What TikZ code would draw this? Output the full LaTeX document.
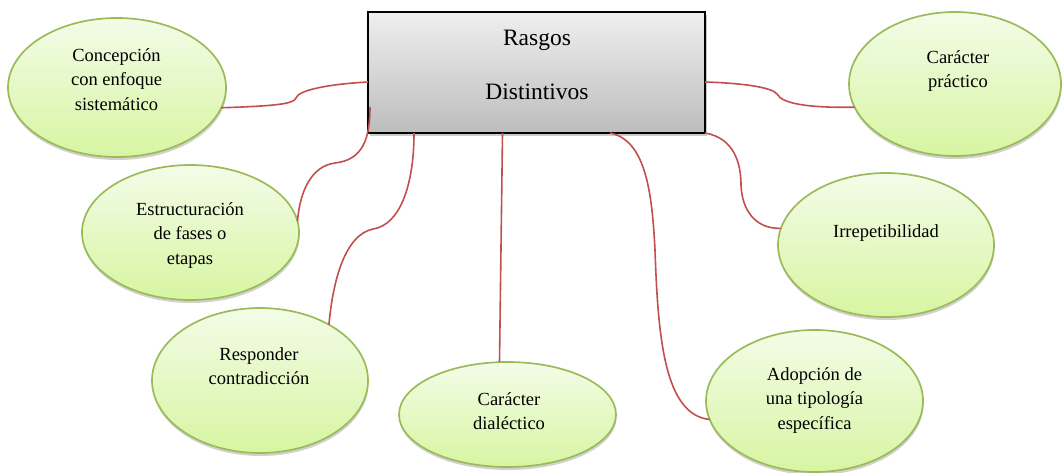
\documentclass[tikz,border=0pt]{standalone}
\usepackage{fontspec}
\setmainfont{Liberation Serif}
\usetikzlibrary{shapes.geometric,shadows}
\definecolor{lnred}{HTML}{C0504D}
\definecolor{ovline}{HTML}{9BBB59}
\definecolor{ovtop}{HTML}{F3FCE8}
\definecolor{ovbot}{HTML}{D7F5A2}
\definecolor{bxtop}{HTML}{EFEFEF}
\definecolor{bxbot}{HTML}{BDBDBD}
\tikzset{
  oval/.style={ellipse, draw=ovline, line width=1.7pt, top color=ovtop, bottom color=ovbot,
    inner sep=0pt, outer sep=0pt,
    drop shadow={shadow xshift=0.5pt, shadow yshift=-3pt, opacity=0.18, fill=black}},
  bigbox/.style={rectangle, draw=black, line width=2pt, top color=bxtop, bottom color=bxbot,
    inner sep=0pt, outer sep=0pt, minimum width=337pt, minimum height=121pt,
    drop shadow={shadow xshift=2pt, shadow yshift=-3pt, opacity=0.2, fill=black}},
  ovtext/.style={anchor=north, align=center, inner sep=0pt, font=\fontsize{18.5}{24.5}\selectfont},
  bxtext/.style={anchor=north, align=center, inner sep=0pt, font=\fontsize{23.5}{54}\selectfont},
  conn/.style={draw=lnred, line width=1.6pt}
}
\begin{document}
\begin{tikzpicture}[x=1pt,y=-1pt]
\useasboundingbox (0,0) rectangle (1062,472);

% central box
\node[bigbox] (box) at (536.5,72.5) {};
\node[bxtext] (tb) at (537,7.2) {\strut Rasgos\\\strut Distintivos};

% ellipses
\node[oval, minimum width=218pt, minimum height=139pt] (e1) at (117,87.5) {};
\node[oval, minimum width=217pt, minimum height=135pt] (e2) at (190.5,232.5) {};
\node[oval, minimum width=216pt, minimum height=145pt] (e3) at (260,380.5) {};
\node[oval, minimum width=217pt, minimum height=105pt] (e4) at (507.5,414.5) {};
\node[oval, minimum width=212pt, minimum height=144pt] (e5) at (955,84) {};
\node[oval, minimum width=216pt, minimum height=144pt] (e6) at (886,245) {};
\node[oval, minimum width=217pt, minimum height=142pt] (e7) at (814.5,401) {};

% texts
\node[ovtext] (t1) at (116.5,43.85) {\strut Concepción\\\strut con enfoque\\\strut sistemático};
\node[ovtext] (t2) at (190,197.85) {\strut Estructuración\\\strut de fases o\\\strut etapas};
\node[ovtext] (t3) at (259,342.85) {\strut Responder\\\strut contradicción};
\node[ovtext] (t4) at (509,387.85) {\strut Carácter\\\strut dialéctico};
\node[ovtext] (t5) at (958,45.85) {\strut Carácter\\\strut práctico};
\node[ovtext] (t6) at (886,219.85) {\strut Irrepetibilidad};
\node[ovtext] (t7) at (814.5,362.85) {\strut Adopción de\\\strut una tipología\\\strut específica};

% connectors
\draw[conn] (e1.-11) .. controls (275,106) and (294,104) .. (296,98)
  .. controls (298,90) and (330,84) .. ([yshift=-9.5pt]box.west);
\draw[conn] ([xshift=2pt,yshift=-34.5pt]box.west) .. controls (370,140) and (362,160) .. (335,163)
  .. controls (312,166) and (300,190) .. (e2.6);
\draw[conn] ([xshift=-122.5pt]box.south) .. controls (414,185) and (400,225) .. (373,229)
  .. controls (345,235) and (333,280) .. (e3.39);
\draw[conn] ([xshift=-34pt]box.south) -- ([xshift=-8pt]e4.north);
\draw[conn] ([xshift=73.5pt]box.south) .. controls (645,140) and (652,190) .. (655,250)
  .. controls (658,340) and (665,415) .. (e7.190);
\draw[conn] (box.south east) .. controls (735,138) and (741,165) .. (741,185)
  .. controls (742,210) and (755,229) .. (e6.171);
\draw[conn] ([yshift=-9.5pt]box.east) .. controls (740,83) and (772,87) .. (777,94)
  .. controls (782,104) and (810,108) .. (e5.193);
\end{tikzpicture}
\end{document}
